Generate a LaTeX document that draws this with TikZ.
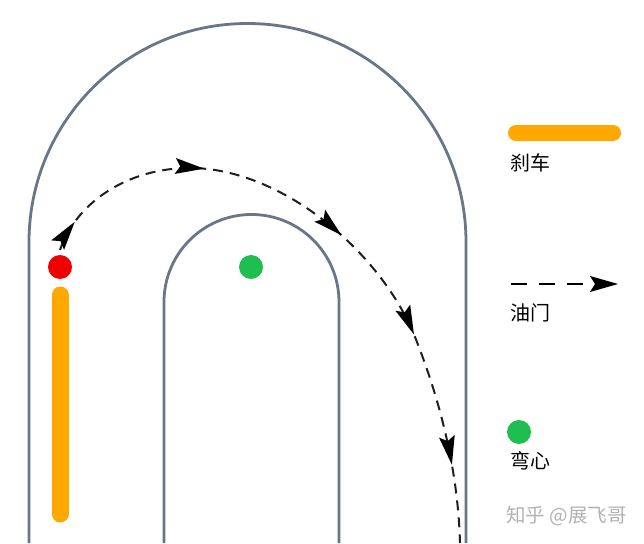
\documentclass[tikz,border=0pt]{standalone}
\usepackage{fontspec}
\newfontfamily\cjk{Noto Sans CJK SC}
\usetikzlibrary{arrows.meta,decorations.markings}
\definecolor{track}{RGB}{105,118,135}
\definecolor{brake}{RGB}{255,168,0}
\definecolor{apex}{RGB}{30,190,80}
\definecolor{stopred}{RGB}{240,0,0}
\begin{document}
\begin{tikzpicture}[x=1pt,y=1pt,
  trackline/.style={draw=track,line width=2.8pt},
  brakebar/.style={draw=brake,line width=17pt,line cap=round},
  dot/.style={circle,inner sep=0pt,minimum size=24pt},
  throttle/.style={draw=black!88,line width=2pt,dash pattern=on 10pt off 7pt},
  headshape/.style={fill=black,draw=none},
  lbl/.style={font=\cjk\fontsize{20}{24}\selectfont,anchor=west,inner sep=0pt}]
\useasboundingbox (0,0) rectangle (644,543);
% track
\draw[trackline] (29,0) -- (29,301) arc[start angle=180,end angle=0,radius=218.5pt] -- (466,0);
\draw[trackline] (164,0) -- (164,241) arc[start angle=180,end angle=0,radius=87.5pt] -- (339,0);
% brake bar and dots
\coordinate (b1) at (60,248);
\coordinate (b2) at (60,29);
\draw[brakebar] (b1) -- (b2);
\node[dot,fill=stopred] (red) at (60,276) {};
\node[dot,fill=apex] (apexdot) at (251,276) {};
% throttle path
\def\head{\fill[headshape] (0,0) -- (-29,8) -- (-24,0) -- (-29,-8) -- cycle;}
\draw[throttle,
  postaction={decorate,decoration={markings,
    mark=at position 32pt with {\head},
    mark=at position 178pt with {\head},
    mark=at position 333pt with {\head},
    mark=at position 457pt with {\head},
    mark=at position 593pt with {\head}}}]
  (60,293) .. controls (75,338) and (125,375) .. (190,375)
  .. controls (280,375) and (380,293) .. (415,206)
  .. controls (440,143) and (458,73) .. (460,0);
% legend
\coordinate (l1a) at (516,410);
\coordinate (l1b) at (613,410);
\draw[brakebar,line width=16pt] (l1a) -- (l1b);
\node[lbl] (t1) at (510,380) {刹车};
\coordinate (l2a) at (511,259);
\coordinate (l2b) at (592,259);
\coordinate (l2c) at (618,259);
\draw[draw=black,line width=2.5pt,dash pattern=on 16pt off 12pt] (l2a) -- (l2b);
\fill[headshape] (l2c) -- (590,267) -- (595,259) -- (590,251) -- cycle;
\node[lbl] (t2) at (510,230) {油门};
\node[dot,fill=apex] (legdot) at (519,111) {};
\node[lbl] (t3) at (510,82) {弯心};
\node[font=\cjk\fontsize{19.5}{23}\selectfont,text=black!30,anchor=west,inner sep=0pt] (wm) at (506,27) {知乎 @展飞哥};
\end{tikzpicture}
\end{document}
